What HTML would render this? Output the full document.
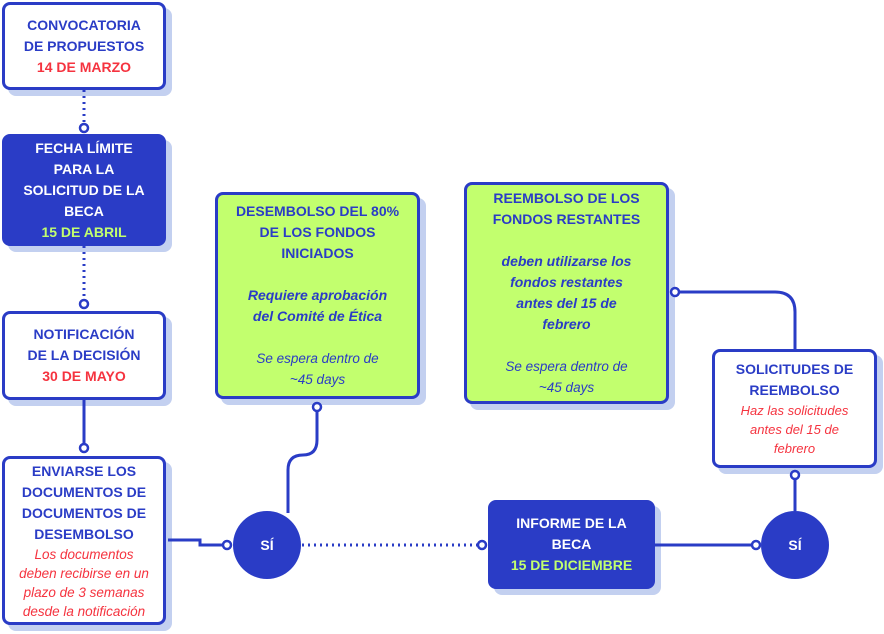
<!DOCTYPE html>
<html><head><meta charset="utf-8"><style>
body{margin:0;width:884px;height:634px;background:#fff;position:relative;overflow:hidden;font-family:"Liberation Sans",sans-serif}
.b{position:absolute;box-sizing:border-box;border:3px solid #2a3cc6;border-radius:8px;display:flex;flex-direction:column;justify-content:center;align-items:center;text-align:center;box-shadow:6px 6px 0 #c3d0f0;color:#2a3cc6}
.t{font-weight:bold;font-size:14px;line-height:21px}
.i{font-style:italic;font-size:13.5px;line-height:20px}
.r{color:#f5333f}
.g{color:#c2ff6e}
.w{background:#fff}
.bl{background:#2a3cc6;color:#fff}
.gr{background:#c2ff6e}
.c{position:absolute;width:68px;height:68px;border-radius:50%;background:#2a3cc6;color:#fff;font-weight:bold;font-size:14px;display:flex;align-items:center;justify-content:center}
svg{position:absolute;left:0;top:0;z-index:2}
</style></head><body>
<div class="b w" style="left:2px;top:2px;width:164px;height:88px"><div class="t">CONVOCATORIA<br>DE PROPUESTOS<br><span class="r">14 DE MARZO</span></div></div>
<div class="b bl" style="left:2px;top:134px;width:164px;height:112px"><div class="t">FECHA LÍMITE<br>PARA LA<br>SOLICITUD DE LA<br>BECA<br><span class="g">15 DE ABRIL</span></div></div>
<div class="b w" style="left:2px;top:311px;width:164px;height:89px"><div class="t">NOTIFICACIÓN<br>DE LA DECISIÓN<br><span class="r">30 DE MAYO</span></div></div>
<div class="b w" style="left:2px;top:456px;width:164px;height:169px"><div class="t">ENVIARSE LOS<br>DOCUMENTOS DE<br>DOCUMENTOS DE<br>DESEMBOLSO</div><div class="i r" style="line-height:19px">Los documentos<br>deben recibirse en un<br>plazo de 3 semanas<br>desde la notificación</div></div>
<div class="b gr" style="left:215px;top:192px;width:205px;height:207px"><div class="t">DESEMBOLSO DEL 80%<br>DE LOS FONDOS<br>INICIADOS<br>&nbsp;<br><i>Requiere aprobación<br>del Comité de Ética</i><br>&nbsp;</div><div class="i" style="line-height:21px">Se espera dentro de<br>~45 days</div></div>
<div class="b gr" style="left:464px;top:182px;width:205px;height:222px"><div class="t">REEMBOLSO DE LOS<br>FONDOS RESTANTES<br>&nbsp;<br><i>deben utilizarse los<br>fondos restantes<br>antes del 15 de<br>febrero</i><br>&nbsp;</div><div class="i" style="line-height:21px">Se espera dentro de<br>~45 days</div></div>
<div class="b w" style="left:712px;top:349px;width:165px;height:119px"><div class="t">SOLICITUDES DE<br>REEMBOLSO</div><div class="i r" style="font-size:13px;line-height:19px">Haz las solicitudes<br>antes del 15 de<br>febrero</div></div>
<div class="b bl" style="left:488px;top:500px;width:167px;height:89px"><div class="t">INFORME DE LA<br>BECA<br><span class="g">15 DE DICIEMBRE</span></div></div>
<div class="c" style="left:233px;top:511px">SÍ</div>
<div class="c" style="left:761px;top:511px">SÍ</div>
<svg width="884" height="634" fill="none" stroke="#2a3cc6" stroke-width="3">
<path d="M84 90V124" stroke-dasharray="2 4"/>
<path d="M84 246V300" stroke-dasharray="2 4"/>
<path d="M84 400V444"/>
<path d="M168 540H200V545H222"/>
<path d="M288 513V470Q288 455 303 455Q317 455 317 440V411"/>
<path d="M302 545H477" stroke-dasharray="2 4"/>
<path d="M655 545H751"/>
<path d="M795 511V480"/>
<path d="M680 292H775Q795 292 795 312V349"/>
<g fill="#fff" stroke-width="2.5">
<circle cx="84" cy="128" r="4"/><circle cx="84" cy="304" r="4"/><circle cx="84" cy="448" r="4"/>
<circle cx="227" cy="545" r="4"/><circle cx="317" cy="407" r="4"/><circle cx="482" cy="545" r="4"/>
<circle cx="756" cy="545" r="4"/><circle cx="795" cy="475" r="4"/><circle cx="675" cy="292" r="4"/>
</g></svg>
</body></html>
